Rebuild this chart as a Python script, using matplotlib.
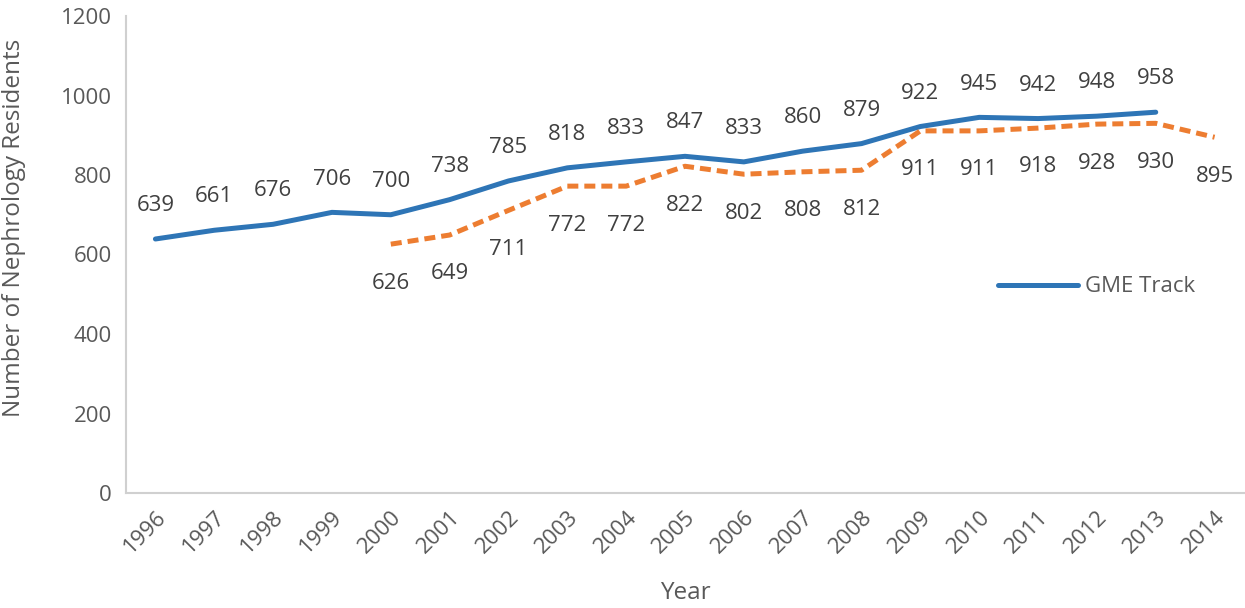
import numpy as np
import matplotlib.pyplot as plt

plt.rcParams['font.family'] = ['Open Sans', 'DejaVu Sans']

years = [str(y) for y in range(1996, 2015)]
gme = [639, 661, 676, 706, 700, 738, 785, 818, 833, 847, 833, 860, 879, 922, 945, 942, 948, 958]
other_years = years[4:]
other = [626, 649, 711, 772, 772, 822, 802, 808, 812, 911, 911, 918, 928, 930, 895]

blue = '#2E75B6'
orange = '#ED7D31'
grey = '#595959'

fig = plt.figure(figsize=(12.45, 6.08), dpi=100)
ax = fig.add_axes([126/1245, 115/608, 1118/1245, 477/608])

x_gme = np.arange(len(gme))
x_oth = np.arange(4, 4 + len(other))
ax.plot(x_gme, gme, color=blue, lw=3.6, solid_capstyle='round', label='GME Track')
ax.plot(x_oth, other, color=orange, lw=3.6, ls=(0, (2.2, 1.2)), dash_capstyle='butt')

fs = 16
for x, v in zip(x_gme, gme):
    ax.annotate(str(v), (x, v), xytext=(0, 24), textcoords='offset points',
                ha='center', va='center', fontsize=fs, color='#404040')
for x, v in zip(x_oth, other):
    ax.annotate(str(v), (x, v), xytext=(0, -28), textcoords='offset points',
                ha='center', va='center', fontsize=fs, color='#404040')

ax.set_xlim(-0.5, 18.5)
ax.set_ylim(0, 1200)
ax.set_xticks(np.arange(len(years)))
ax.set_xticklabels(years, rotation=45, ha='right', rotation_mode='anchor')
ax.set_yticks(range(0, 1201, 200))
ax.tick_params(length=0, labelsize=fs, labelcolor=grey, pad=10)
for s in ['top', 'right']:
    ax.spines[s].set_visible(False)
for s in ['left', 'bottom']:
    ax.spines[s].set_color('#D0D0D0')
    ax.spines[s].set_linewidth(1.5)

ax.set_xlabel('Year', fontsize=17.5, color=grey, labelpad=17)
ax.set_ylabel('Number of Nephrology Residents', fontsize=17.5, color=grey)
ax.yaxis.set_label_coords(-0.089, 0.555)

leg = ax.legend(loc='center left', bbox_to_anchor=(0.762, 0.432), frameon=False,
                fontsize=fs, handlelength=3.6, handletextpad=0.3)
for t in leg.get_texts():
    t.set_color(grey)

plt.savefig('out.png', dpi=100)
